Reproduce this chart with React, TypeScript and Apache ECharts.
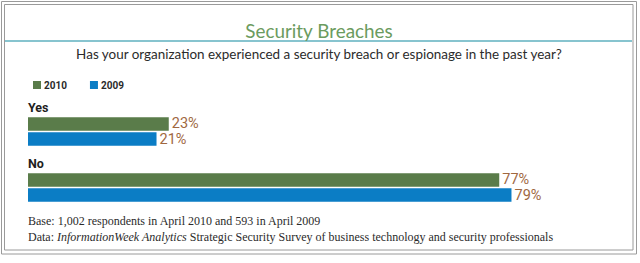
import React, { useEffect, useRef } from 'react';
import * as echarts from 'echarts';

const categories = ['Yes', 'No'];
const seriesNames = ['2010', '2009'];
const values2010 = [23, 77];
const values2009 = [21, 79];
const titleText = 'Security Breaches';
const subtitleText = 'Has your organization experienced a security breach or espionage in the past year?';
const footBase = 'Base: 1,002 respondents in April 2010 and 593 in April 2009';
const footDataLead = 'Data: ';
const footDataItalic = 'InformationWeek Analytics';
const footDataTail = ' Strategic Security Survey of business technology and security professionals';

const SANS = "Lato, Roboto, 'Liberation Sans', sans-serif";
const ROBOTO = "Roboto, 'Liberation Sans', sans-serif";
const SERIF = "'Liberation Serif', 'DejaVu Serif', serif";
const GREEN = '#5a7c4a';
const BLUE = '#0b7dc5';
const LABEL = '#a0683f';

function measure(text: string, font: string): number {
  const c = document.createElement('canvas').getContext('2d');
  if (!c) return text.length * 7;
  c.font = font;
  return c.measureText(text).width;
}

export default function App() {
  const ref = useRef<HTMLDivElement>(null);
  useEffect(() => {
    if (!ref.current) return;
    const chart = echarts.init(ref.current, null, { renderer: 'svg' });
    const titleSize = 19;
    const subSize = 14;
    const titleW = measure(titleText, `normal ${titleSize}px ${SANS}`);
    const subW = measure(subtitleText, `normal ${subSize}px ${SANS}`);
    const titleScale = Math.min(1, 148 / titleW);
    const subScale = Math.min(1, 488 / subW);
    const option: any = {
      animation: false,
      backgroundColor: '#ffffff',
      legend: {
        data: seriesNames,
        left: 28,
        top: 75,
        icon: 'rect',
        itemWidth: 8,
        itemHeight: 8,
        itemGap: 23,
        textStyle: { fontFamily: ROBOTO, fontSize: 10, fontWeight: 'bold', color: '#2b2b2b', padding: [0, 0, 0, -2] },
      },
      grid: { left: 28, top: 103.5, width: 652.5, height: 112, containLabel: false },
      xAxis: { type: 'value', min: 0, max: 100, show: false },
      yAxis: {
        type: 'category',
        data: categories,
        inverse: true,
        axisLine: { show: false },
        axisTick: { show: false },
        splitLine: { show: false },
        axisLabel: {
          inside: true,
          margin: 0,
          align: 'left',
          verticalAlign: 'bottom',
          padding: [0, 0, 18, 0],
          fontFamily: ROBOTO,
          fontSize: 12.5,
          fontWeight: 'bold',
          color: '#1e1e1e',
        },
      },
      series: [
        {
          name: seriesNames[0],
          type: 'bar',
          data: values2010,
          barWidth: 13.5,
          barGap: '12%',
          itemStyle: { color: GREEN },
          label: {
            show: true,
            position: 'right',
            distance: 3,
            formatter: '{c}%',
            fontFamily: ROBOTO,
            fontSize: 14.5,
            color: LABEL,
          },
        },
        {
          name: seriesNames[1],
          type: 'bar',
          data: values2009,
          barWidth: 13.5,
          barGap: '12%',
          itemStyle: { color: BLUE },
          label: {
            show: true,
            position: 'right',
            distance: 3,
            formatter: '{c}%',
            fontFamily: ROBOTO,
            fontSize: 14.5,
            color: LABEL,
          },
        },
      ],
      graphic: [
        { type: 'rect', shape: { x: 1.5, y: 1.5, width: 635, height: 252.5 }, style: { fill: 'none', stroke: '#9a9a9a', lineWidth: 1 }, silent: true },
        { type: 'rect', shape: { x: 4.5, y: 4.5, width: 628.5, height: 245.5 }, style: { fill: 'none', stroke: '#9a9a9a', lineWidth: 1 }, silent: true },
        { type: 'line', shape: { x1: 5, y1: 41, x2: 632, y2: 41 }, style: { stroke: '#5fb0bf', lineWidth: 1.5 }, silent: true, z: 1 },
        {
          type: 'text',
          x: 319,
          y: 30,
          scaleX: titleScale,
          z: 2,
          style: {
            text: titleText,
            align: 'center',
            verticalAlign: 'middle',
            fontFamily: SANS,
            fontSize: titleSize,
            fill: '#6b9b5e',
          },
        },
        {
          type: 'text',
          x: 319,
          y: 53.5,
          scaleX: subScale,
          style: {
            text: subtitleText,
            align: 'center',
            verticalAlign: 'middle',
            fontFamily: SANS,
            fontSize: subSize,
            fill: '#2b2b2b',
          },
        },
        {
          type: 'text',
          left: 28,
          top: 215,
          style: { text: footBase, fontFamily: SERIF, fontSize: 12, fill: '#2b2b2b' },
        },
        {
          type: 'text',
          left: 28,
          top: 231,
          style: {
            text: `{a|${footDataLead}}{i|${footDataItalic}}{a|${footDataTail}}`,
            rich: {
              a: { fontFamily: SERIF, fontSize: 12, fill: '#2b2b2b', color: '#2b2b2b' },
              i: { fontFamily: SERIF, fontSize: 12, fontStyle: 'italic', fill: '#2b2b2b', color: '#2b2b2b' },
            },
          },
        },
      ],
    };
    chart.setOption(option);
    return () => chart.dispose();
  }, []);
  return <div ref={ref} style={{ position: 'fixed', left: 0, top: 0, width: 640, height: 263 }} />;
}
